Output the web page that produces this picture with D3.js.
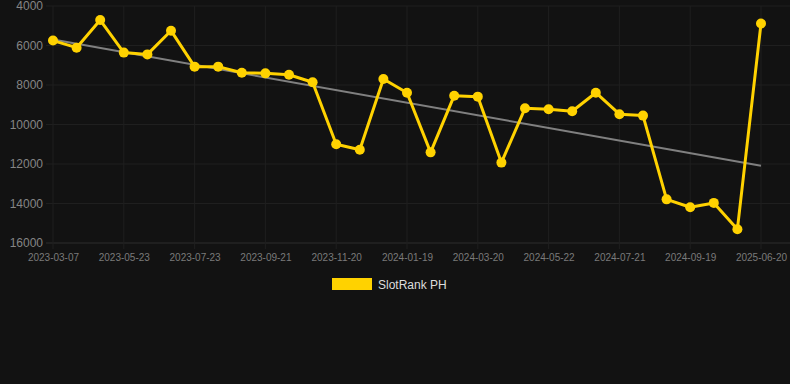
<!DOCTYPE html>
<html>
<head>
<meta charset="utf-8">
<script src="https://cdn.jsdelivr.net/npm/d3@7"></script>
<style>
  body { margin: 0; background: #121212; }
  svg { display: block; font-family: "Liberation Sans", Arial, sans-serif; }
</style>
</head>
<body>
<div id="chart"></div>
<script>
// data
var dates = ["2023-03-07","2023-04-01","2023-04-27","2023-05-23","2023-06-12","2023-07-03",
  "2023-07-23","2023-08-12","2023-09-01","2023-09-21","2023-10-11","2023-10-31",
  "2023-11-20","2023-12-10","2023-12-30","2024-01-19","2024-02-08","2024-02-29",
  "2024-03-20","2024-04-10","2024-05-01","2024-05-22","2024-06-11","2024-07-01",
  "2024-07-21","2024-08-10","2024-08-30","2024-09-19","2024-10-09","2024-10-29","2025-06-20"];
var ranks = [5750, 6110, 4710, 6360, 6450, 5250, 7070, 7070, 7380, 7410, 7480, 7860,
  11000, 11280, 7700, 8390, 11410, 8540, 8590, 11930, 9180, 9230, 9330, 8390,
  9480, 9550, 13790, 14190, 13970, 15300, 4890];
var trendValues = [5700, 12090];   // trend line at first and last date
var yTicks = [4000, 6000, 8000, 10000, 12000, 14000, 16000];
var seriesName = "SlotRank PH";

var width = 790, height = 384;
var margin = {top: 6, right: 29, bottom: 141, left: 53};
var innerW = width - margin.left - margin.right,
    innerH = height - margin.top - margin.bottom;

var svg = d3.select("#chart").append("svg")
    .attr("width", width)
    .attr("height", height);

svg.append("rect").attr("width", width).attr("height", height).attr("fill", "#121212");

var g = svg.append("g")
    .attr("transform", "translate(" + margin.left + "," + margin.top + ")");

var x = d3.scalePoint()
  .domain(dates)
  .range([0, innerW]);

var y = d3.scaleLinear()
  .domain([4000, 16000])
  .range([0, innerH]);

// horizontal grid
g.append("g")
  .selectAll("line")
  .data(yTicks)
  .enter().append("line")
    .attr("x1", -7)
    .attr("x2", width - margin.left)
    .attr("y1", function(d) { return y(d); })
    .attr("y2", function(d) { return y(d); })
    .attr("stroke", function(d) { return d === 16000 ? "#2c2c2c" : "#1f1f1f"; })
    .attr("stroke-width", 1);

var shownDates = dates.filter(function(d, i) { return i % 3 === 0; });

// vertical grid
g.append("g")
  .selectAll("line")
  .data(shownDates)
  .enter().append("line")
    .attr("x1", function(d) { return x(d); })
    .attr("x2", function(d) { return x(d); })
    .attr("y1", 0)
    .attr("y2", innerH + 6)
    .attr("stroke", "#1f1f1f")
    .attr("stroke-width", 1);

// y axis labels
var yAxis = g.append("g")
  .call(d3.axisLeft(y).tickValues(yTicks).tickSize(0).tickPadding(10).tickFormat(d3.format("d")));
yAxis.select(".domain").remove();
yAxis.selectAll("text")
  .attr("fill", "#858585")
  .style("font-size", "12px");

// x axis labels
var xAxis = g.append("g")
  .attr("transform", "translate(0," + innerH + ")")
  .call(d3.axisBottom(x).tickValues(shownDates).tickSize(0).tickPadding(11));
xAxis.select(".domain").remove();
xAxis.selectAll("text")
  .attr("fill", "#7a7a7a")
  .style("font-size", "10px");

// trend line
g.append("line")
  .attr("x1", x(dates[0]))
  .attr("y1", y(trendValues[0]))
  .attr("x2", x(dates[dates.length - 1]))
  .attr("y2", y(trendValues[1]))
  .attr("stroke", "#808080")
  .attr("stroke-width", 2);

var color = "#ffd200";

// series line
var line = d3.line()
  .x(function(d, i) { return x(dates[i]); })
  .y(function(d) { return y(d); });

g.append("path")
  .datum(ranks)
  .attr("d", line)
  .attr("fill", "none")
  .attr("stroke", color)
  .attr("stroke-width", 3)
  .attr("stroke-linejoin", "round");

g.selectAll("circle.pt")
  .data(ranks)
  .enter().append("circle")
    .attr("class", "pt")
    .attr("cx", function(d, i) { return x(dates[i]); })
    .attr("cy", function(d) { return y(d); })
    .attr("r", 5)
    .attr("fill", color);

// legend
var legend = svg.append("g").attr("transform", "translate(332,278)");
legend.append("rect")
  .attr("width", 40)
  .attr("height", 12)
  .attr("fill", color);
legend.append("text")
  .attr("x", 46)
  .attr("y", 10.5)
  .attr("fill", "#dddddd")
  .style("font-size", "12px")
  .text(seriesName);
</script>
</body>
</html>
